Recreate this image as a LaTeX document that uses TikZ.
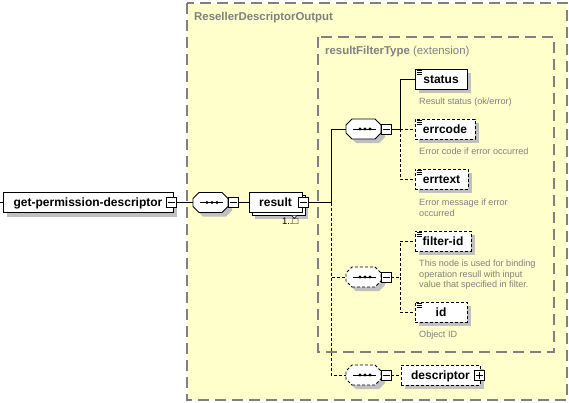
\documentclass[tikz,border=0pt]{standalone}
\usepackage{fontspec}
\setmainfont{Liberation Sans}
\usetikzlibrary{shadows}
\definecolor{yel}{HTML}{FFFFCC}
\definecolor{bordergray}{HTML}{808080}
\definecolor{shadowgray}{HTML}{C0C0C0}
\definecolor{docgray}{HTML}{808080}
\tikzset{
  x=1pt, y=-1pt,
  grpbox/.style={draw=bordergray, fill=yel, line width=1.4pt, dash pattern=on 11pt off 6pt},
  grptitle/.style={anchor=base west, inner sep=0pt, text=docgray, font=\fontsize{11.4}{13}\selectfont\bfseries},
  elembase/.style={draw=black, fill=white, line width=0.8pt, minimum height=20pt, inner sep=0pt,
    text height=8.5pt, text depth=0.5pt, font=\fontsize{12}{13}\selectfont\bfseries},
  shad/.style={drop shadow={shadow xshift=4pt, shadow yshift=-4pt, fill=shadowgray, opacity=1}},
  elem/.style={elembase, shad},
  optional/.style={dash pattern=on 3pt off 2pt},
  seqnode/.style={minimum width=35pt, minimum height=20pt, inner sep=0pt},
  seqline/.style={draw=black, fill=white, line width=0.8pt},
  minusbox/.style={draw=black, fill=white, line width=0.8pt, minimum size=10pt, inner sep=0pt,
    path picture={\draw[line width=0.8pt] ([xshift=-3.5pt]path picture bounding box.center) -- ([xshift=3.5pt]path picture bounding box.center);}},
  plusbox/.style={minusbox,
    path picture={\draw[line width=0.8pt] ([xshift=-3.5pt]path picture bounding box.center) -- ([xshift=3.5pt]path picture bounding box.center);
      \draw[line width=0.8pt] ([yshift=-3.5pt]path picture bounding box.center) -- ([yshift=3.5pt]path picture bounding box.center);}},
  conn/.style={draw=black, line width=0.8pt},
  doc/.style={anchor=north west, inner sep=0pt, align=left, text=docgray, font=\fontsize{9.1}{10.8}\selectfont},
  icon/.style={line width=0.7pt},
}
% octagon of a sequence compositor: #1 node name, #2 extra style
\newcommand\seqoct[2]{%
  \fill[shadowgray] ([shift={(-7.5pt,-14pt)}]#1.center) -- ([shift={(15.5pt,-14pt)}]#1.center)
    -- ([shift={(21.5pt,-8pt)}]#1.center) -- ([shift={(21.5pt,0pt)}]#1.center)
    -- ([shift={(15.5pt,6pt)}]#1.center) -- ([shift={(-7.5pt,6pt)}]#1.center)
    -- ([shift={(-13.5pt,0pt)}]#1.center) -- ([shift={(-13.5pt,-8pt)}]#1.center) -- cycle;
  \draw[seqline,#2] ([shift={(-11.5pt,-10pt)}]#1.center) -- ([shift={(11.5pt,-10pt)}]#1.center)
    -- ([shift={(17.5pt,-4pt)}]#1.center) -- ([shift={(17.5pt,4pt)}]#1.center)
    -- ([shift={(11.5pt,10pt)}]#1.center) -- ([shift={(-11.5pt,10pt)}]#1.center)
    -- ([shift={(-17.5pt,4pt)}]#1.center) -- ([shift={(-17.5pt,-4pt)}]#1.center) -- cycle;
  \draw[line width=0.8pt] ([xshift=-10.5pt]#1.center) -- ([xshift=12.5pt]#1.center);
  \foreach \dx in {-3.5,1.5,6.5} \fill ([xshift=\dx pt]#1.center) circle (1.6pt);
}
\begin{document}
\begin{tikzpicture}
\useasboundingbox (0,0) rectangle (569,402);
% group boxes
\draw[grpbox] (187,3) rectangle (567,400);
\node[grptitle] (t1) at (194,20.5) {ResellerDescriptorOutput};
\draw[grpbox] (318,37) rectangle (554,352);
\node[grptitle] (t2) at (325,54.5) {resultFilterType\fontseries{m}\selectfont{} (extension)};

% elements
\node[elem, minimum width=170pt] (gpd) at (88,202.5) {get-permission-descriptor};
\node[minusbox] (gpdm) at (171.5,202.5) {};
\node[seqnode] (seq0) at (210.5,202.5) {};
\seqoct{seq0}{}
\node[minusbox] (s0m) at (233,202.5) {};
\node[elembase, minimum width=53pt,
  general shadow={shadow xshift=6pt, shadow yshift=-6pt, fill=shadowgray, draw=none, opacity=1},
  general shadow={shadow xshift=3pt, shadow yshift=-3pt, fill=white, draw=black, line width=0.8pt}] (result) at (275.5,202.5) {result};
\node[minusbox] (resm) at (303,202.5) {};
\draw[line width=0.6pt, fill=white] (291.8,215.6) -- (294.3,218.4) -- (296.8,215.6);
\node[anchor=base east, inner sep=0pt, font=\fontsize{9.5}{11}\selectfont] (mult) at (298.5,224.5) {1..□};

\coordinate (trunk) at (331,202.5);

\node[seqnode] (seq1) at (363.5,129) {};
\seqoct{seq1}{}
\node[minusbox] (s1m) at (386,129) {};
\coordinate (b1) at (400,129);
\node[elem, minimum width=52pt] (status) at (441,79) {status};
\node[elem, optional, minimum width=60pt] (errcode) at (445,129) {errcode};
\node[elem, optional, minimum width=53pt] (errtext) at (441.5,179) {errtext};

\node[seqnode] (seq2) at (363.5,277) {};
\seqoct{seq2}{optional}
\node[minusbox] (s2m) at (386,277) {};
\coordinate (b2) at (400,277);
\node[elem, optional, minimum width=56pt] (filterid) at (443,241) {filter-id};
\node[elem, optional, minimum width=52pt] (id) at (441,312) {id};

\node[seqnode] (seq3) at (363.5,375) {};
\seqoct{seq3}{optional}
\node[minusbox] (s3m) at (386,375) {};
\node[elem, optional, minimum width=79pt] (desc) at (440.5,375) {descriptor};
\node[plusbox] (descp) at (479,375) {};

% icons
\foreach \n in {status,errcode,errtext,filterid,id}{
  \foreach \dy in {2,4,6}
    \draw[icon] ([shift={(2pt,-\dy pt)}]\n.north west) -- +(5pt,0);
}

% docs
\node[doc] (d1) at (419,97.5) {Result status (ok/error)};
\node[doc] (d2) at (419,147.5) {Error code if error occurred};
\node[doc] (d3) at (419,198.5) {Error message if error\\occurred};
\node[doc] (d4) at (419,259.5) {This node is used for binding\\operation resull with input\\value that specified in filter.};
\node[doc] (d5) at (419,330.5) {Object ID};

% connectors
\coordinate (left) at (0,202.5);
\draw[conn] (left) -- (gpd.west);
\draw[conn] (gpdm.east) -- (seq0.west);
\draw[conn] (s0m.east) -- (result.west);
\draw[conn] (resm.east) -- (trunk) |- (seq1.west);
\draw[conn, optional] (trunk) |- (seq2.west);
\draw[conn, optional] (trunk) |- (seq3.west);
\draw[conn] (s1m.east) -- (b1) |- (status.west);
\draw[conn, optional] (b1) -- (errcode.west);
\draw[conn, optional] (b1) |- (errtext.west);
\draw[conn, optional] (s2m.east) -- (b2) |- (filterid.west);
\draw[conn, optional] (b2) |- (id.west);
\draw[conn, optional] (s3m.east) -- (desc.west);
\end{tikzpicture}
\end{document}
